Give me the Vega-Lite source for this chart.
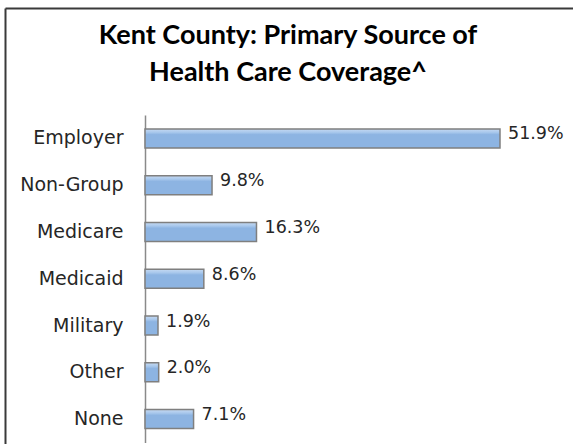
{
  "$schema": "https://vega.github.io/schema/vega-lite/v6.json",
  "autosize": "none",
  "padding": {"left": 5, "top": 8, "right": 0, "bottom": 0},
  "width": 568,
  "height": 436,
  "background": "white",
  "config": {
    "view": {"stroke": null}
  },
  "title": {
    "text": ["Kent County: Primary Source of", "Health Care Coverage^"],
    "anchor": "middle",
    "frame": "group",
    "orient": "top",
    "baseline": "top",
    "offset": -79,
    "dx": -1,
    "font": "Lato",
    "fontSize": 27,
    "fontWeight": "bold",
    "color": "#000000",
    "lineHeight": 37
  },
  "data": {
    "values": [
      {"source": "Employer", "share": 0.519},
      {"source": "Non-Group", "share": 0.098},
      {"source": "Medicare", "share": 0.163},
      {"source": "Medicaid", "share": 0.086},
      {"source": "Military", "share": 0.019},
      {"source": "Other", "share": 0.020},
      {"source": "None", "share": 0.071}
    ]
  },
  "resolve": {"scale": {"x": "independent", "y": "independent"}, "axis": {"x": "independent", "y": "independent"}},
  "layer": [
    {
      "mark": {"type": "point", "opacity": 0, "size": 1},
      "encoding": {
        "x": {
          "datum": 0,
          "type": "quantitative",
          "scale": {"domain": [0, 1], "range": [0, 568]},
          "axis": {"orient": "top", "title": null, "labels": false, "ticks": false, "grid": false, "domain": true, "domainColor": "#3a3a3a", "domainWidth": 2}
        },
        "y": {
          "datum": 0,
          "type": "quantitative",
          "scale": {"domain": [0, 1], "range": [0, 436]},
          "axis": {"orient": "left", "title": null, "labels": false, "ticks": false, "grid": false, "domain": true, "domainColor": "#3a3a3a", "domainWidth": 2}
        }
      }
    },
    {
      "encoding": {
        "y": {
          "field": "source",
          "type": "nominal",
          "sort": null,
          "scale": {"range": [107, 434.5], "paddingInner": 0.594, "paddingOuter": 0.297},
          "axis": {
            "orient": "left",
            "title": null,
            "offset": -140,
            "ticks": false,
            "tickSize": 0,
            "labelPadding": 22,
            "labelFont": "DejaVu Sans",
            "labelFontSize": 19,
            "labelColor": "#262626",
            "domainColor": "#8a8a8a",
            "domainWidth": 1.5,
            "grid": false
          }
        },
        "x": {
          "field": "share",
          "type": "quantitative",
          "scale": {"domain": [0, 0.6], "range": [140, 550.4]},
          "axis": null
        }
      },
      "layer": [
        {
          "mark": {
            "type": "bar",
            "stroke": "#7f7f7f",
            "strokeWidth": 1.5,
            "fill": {
              "gradient": "linear",
              "x1": 0, "y1": 0, "x2": 0, "y2": 1,
              "stops": [
                {"offset": 0, "color": "#c6daf2"},
                {"offset": 0.18, "color": "#a9c8ec"},
                {"offset": 0.3, "color": "#8db4e2"},
                {"offset": 1, "color": "#8db4e2"}
              ]
            }
          }
        },
        {
          "mark": {
            "type": "text",
            "align": "left",
            "baseline": "middle",
            "dx": 8,
            "dy": -4,
            "font": "DejaVu Sans",
            "fontSize": 17.5,
            "color": "#262626"
          },
          "encoding": {
            "text": {"field": "share", "type": "quantitative", "format": ".1%"}
          }
        }
      ]
    }
  ]
}
